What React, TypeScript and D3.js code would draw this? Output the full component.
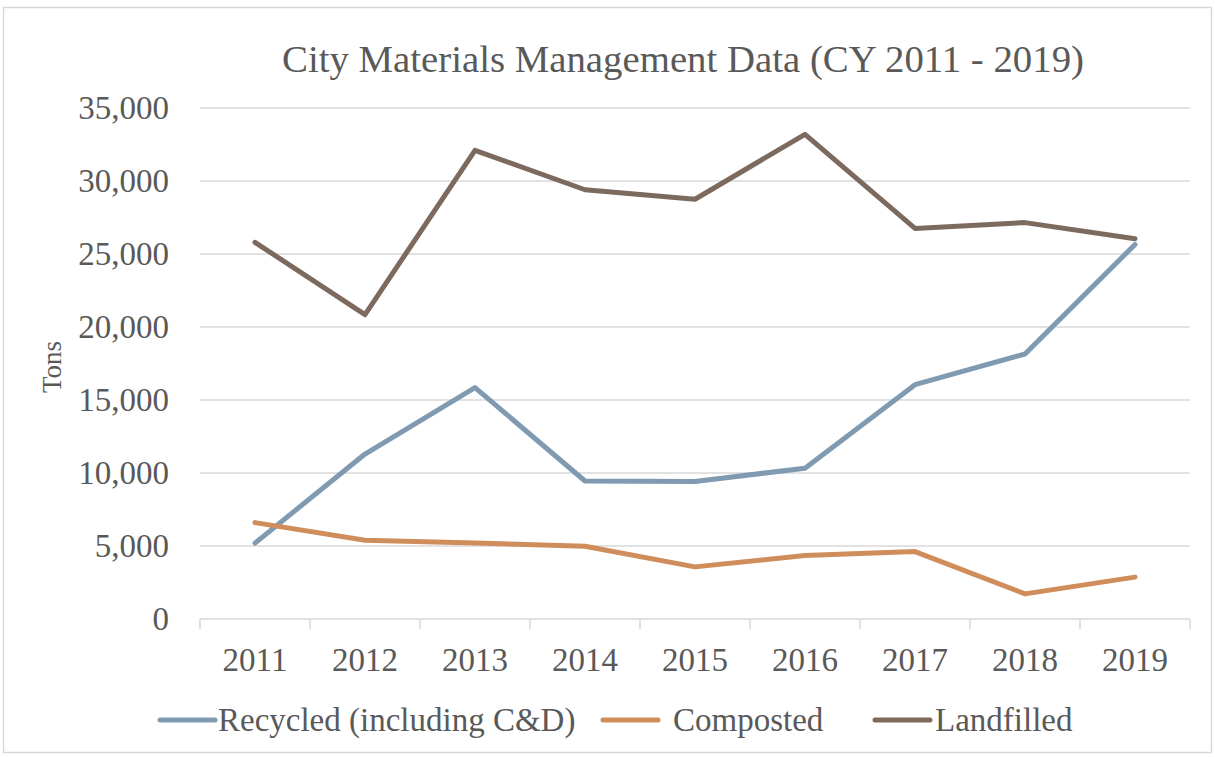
import React from "react";
import * as d3 from "d3";

const years = ["2011", "2012", "2013", "2014", "2015", "2016", "2017", "2018", "2019"];
const recycled = [5200, 11300, 15850, 9450, 9420, 10330, 16050, 18150, 25650];
const composted = [6600, 5400, 5200, 4980, 3570, 4350, 4620, 1720, 2870];
const landfilled = [25800, 20850, 32100, 29400, 28750, 33200, 26750, 27150, 26050];
const yTicks = [0, 5000, 10000, 15000, 20000, 25000, 30000, 35000];
const seriesNames = ["Recycled (including C&D)", "Composted", "Landfilled"];
const seriesColors = ["#7F9AB1", "#D08D5C", "#7C6A5F"];

const W = 1215, H = 757;
const left = 200, right = 1190, top = 108, bottom = 619;
const FONT = "'Liberation Serif', serif";
const TXT = "#595959";

export default function App() {
  const x = d3.scaleBand<string>().domain(years).range([left, right]);
  const y = d3.scaleLinear().domain([0, 35000]).range([bottom, top]);
  const line = d3.line<number>().x((_, i) => (x(years[i]) as number) + x.bandwidth() / 2).y((v) => y(v));
  const data = [recycled, composted, landfilled];
  const fmt = d3.format(",");
  const legendItems = [
    { lx: 160, tx: 218 },
    { lx: 603, tx: 673 },
    { lx: 875, tx: 935 },
  ];
  return (
    <svg width={W} height={H} style={{ position: "absolute", left: 0, top: 0, background: "#fff" }}>
      <rect x={3.5} y={7.5} width={1208} height={745} fill="#fff" stroke="#D9D9D9" strokeWidth={1.5} />
      <text x={683} y={72} textAnchor="middle" fontFamily={FONT} fontSize={38.8} fill={TXT}>
        City Materials Management Data (CY 2011 - 2019)
      </text>
      {yTicks.map((t) => (
        <g key={t}>
          <line x1={left} x2={right} y1={y(t)} y2={y(t)} stroke="#D9D9D9" strokeWidth={1.5} />
          <text x={169} y={y(t) + 11} textAnchor="end" fontFamily={FONT} fontSize={33} fill={TXT}>
            {fmt(t)}
          </text>
        </g>
      ))}
      {d3.range(years.length + 1).map((i) => {
        const xx = left + i * x.step();
        return <line key={i} x1={xx} x2={xx} y1={bottom} y2={bottom + 10} stroke="#D9D9D9" strokeWidth={1.5} />;
      })}
      {years.map((yr) => (
        <text key={yr} x={(x(yr) as number) + x.bandwidth() / 2} y={671} textAnchor="middle" fontFamily={FONT} fontSize={33} fill={TXT}>
          {yr}
        </text>
      ))}
      <text transform={`translate(61,367) rotate(-90)`} textAnchor="middle" fontFamily={FONT} fontSize={27} fill={TXT}>
        Tons
      </text>
      {data.map((d, i) => (
        <path key={i} d={line(d) || ""} fill="none" stroke={seriesColors[i]} strokeWidth={5} strokeLinecap="round" strokeLinejoin="round" />
      ))}
      {seriesNames.map((n, i) => (
        <g key={n}>
          <line x1={legendItems[i].lx} x2={legendItems[i].lx + 55} y1={720} y2={720} stroke={seriesColors[i]} strokeWidth={5} strokeLinecap="round" />
          <text x={legendItems[i].tx} y={731} fontFamily={FONT} fontSize={33} fill={TXT}>
            {n}
          </text>
        </g>
      ))}
    </svg>
  );
}
